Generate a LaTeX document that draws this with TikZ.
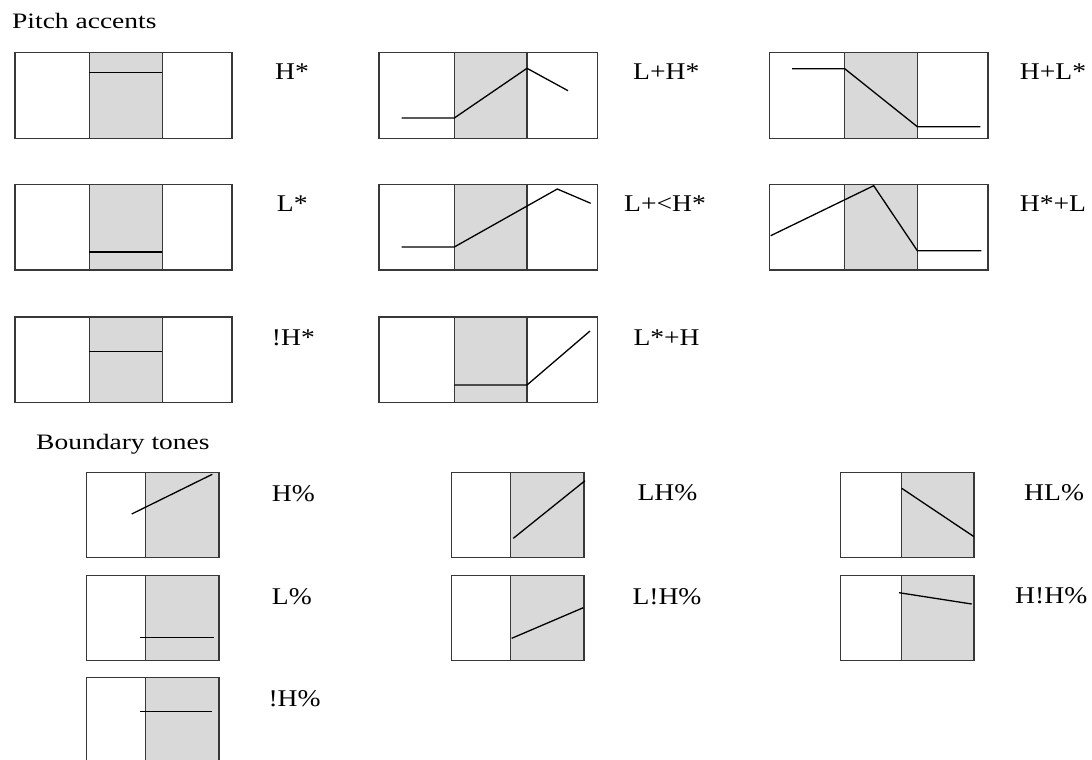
\documentclass[tikz,border=0pt]{standalone}
\usepackage{fontspec}
\setmainfont{Liberation Serif}
\newcommand\sxl[1]{\scalebox{1.15}[1]{#1}}
\newcommand\sxh[1]{\scalebox{1.25}[1]{#1}}
\newcommand\paccent[6]{%
  \fill[shade] (#2,#5) rectangle (#3,#6);
  \draw[frame] (#1,#5) rectangle (#4,#6);
  \draw[frame] (#2,#5) -- (#2,#6) (#3,#5) -- (#3,#6);}
\newcommand\btone[5]{%
  \fill[shade] (#2,#4) rectangle (#3,#5);
  \draw[frame] (#1,#4) rectangle (#3,#5);
  \draw[frame] (#2,#4) -- (#2,#5);}
\begin{document}
\begin{tikzpicture}[x=1pt,y=-1pt,
  frame/.style={draw=black!78,line width=1.4pt},
  shade/.style={fill=gray!30},
  contour/.style={draw=black,line width=1.3pt,line join=miter},
  lab/.style={anchor=base west,inner sep=0pt,font=\fontsize{24}{28}\selectfont},
  head/.style={anchor=base west,inner sep=0pt,font=\fontsize{22}{26}\selectfont}]
\clip (0,0) rectangle (1092,760);
\fill[white] (0,0) rectangle (1092,760);

% headings
\node[head] (pa) at (12,28.3) {\sxh{Pitch accents}};
\node[head] (bt) at (36,449.3) {\sxh{Boundary tones}};

% pitch accent boxes
\paccent{15}{89.3}{162.3}{232}{52.7}{138.3}
\paccent{379}{454.3}{527}{597.3}{52.7}{138.3}
\paccent{769.7}{844.7}{917.3}{988}{52.7}{138.3}
\paccent{15}{89.3}{162.3}{232}{184.5}{270}
\paccent{379}{454.3}{527}{597.3}{184.5}{270}
\paccent{769.7}{844.7}{917.3}{988}{184.5}{270}
\paccent{15}{89.3}{162.3}{232}{317}{402.3}
\paccent{379}{454.3}{527}{597.3}{317}{402.3}

% boundary tone boxes
\btone{86.7}{145.7}{219}{472.3}{557.5}
\btone{451.7}{510.7}{584}{472.3}{557.5}
\btone{840.7}{901.7}{974}{472.3}{557.5}
\btone{86.7}{145.7}{219}{575.7}{660.7}
\btone{451.7}{510.7}{584}{575.7}{660.7}
\btone{840.7}{901.7}{974}{575.7}{660.7}
\btone{86.7}{145.7}{219}{677.7}{800}

% pitch contours
\draw[contour] (89.3,72.7) -- (162.3,72.7);
\draw[contour] (401.7,118) -- (454.3,118) -- (527,68.3) -- (568,90.7);
\draw[contour] (792,68.7) -- (844.7,68.7) -- (917.3,126.7) -- (980.3,126.7);
\draw[contour] (89.3,252) -- (162.3,252);
\draw[contour] (401.7,247) -- (454.3,247) -- (557.3,189) -- (590.7,203.3);
\draw[contour] (770.7,235.7) -- (873.7,185.7) -- (917.3,250.7) -- (981.3,250.7);
\draw[contour] (89.3,351.3) -- (162.3,351.3);
\draw[contour] (454.3,385) -- (527,385) -- (590,331);
\draw[contour] (131.7,514) -- (212.3,474.3);
\draw[contour] (140,637.3) -- (213.7,637.3);
\draw[contour] (140,711.7) -- (212.3,711.7);
\draw[contour] (513.3,538.3) -- (585,480.7);
\draw[contour] (511.7,638.3) -- (583.3,607.7);
\draw[contour] (901.7,488.3) -- (974,536.7);
\draw[contour] (899,592.7) -- (971.7,604);

% labels
\node[lab] (l1) at (275,79) {\sxl{H*}};
\node[lab] (l2) at (633,79) {\sxl{L+H*}};
\node[lab] (l3) at (1019.7,79) {\sxl{H+L*}};
\node[lab] (l4) at (276.7,211.7) {\sxl{L*}};
\node[lab] (l5) at (624,211.7) {\sxl{L+<H*}};
\node[lab] (l6) at (1019.7,211) {\sxl{H*+L}};
\node[lab] (l7) at (271.7,345) {\sxl{!H*}};
\node[lab] (l8) at (633.3,345) {\sxl{L*+H}};
\node[lab] (b1) at (271.7,501) {\sxl{H\%}};
\node[lab] (b2) at (637.3,500.7) {\sxl{LH\%}};
\node[lab] (b3) at (1024,500.7) {\sxl{HL\%}};
\node[lab] (b4) at (271.7,604) {\sxl{L\%}};
\node[lab] (b5) at (632.3,604) {\sxl{L!H\%}};
\node[lab] (b6) at (1015,603.3) {\sxl{H!H\%}};
\node[lab] (b7) at (268.3,706) {\sxl{!H\%}};
\end{tikzpicture}
\end{document}
